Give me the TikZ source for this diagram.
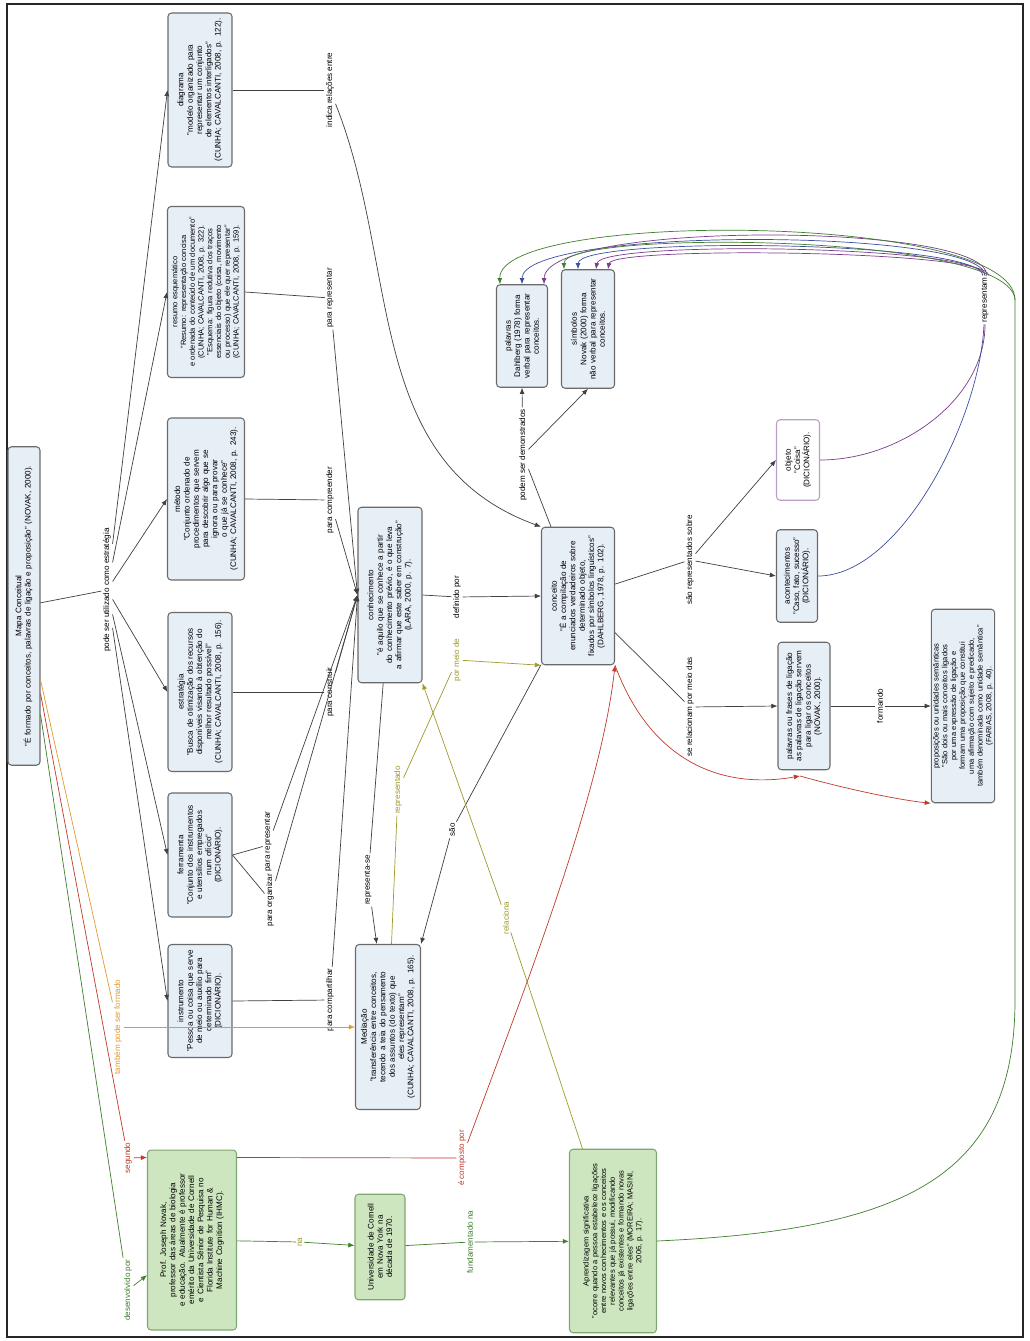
\documentclass[tikz,border=0pt]{standalone}
\usepackage{fontspec}
\setmainfont{Liberation Sans}
\usetikzlibrary{arrows.meta,calc}
\definecolor{boxfill}{HTML}{E6EEF6}
\definecolor{boxdraw}{HTML}{6A6A6A}
\definecolor{grfill}{HTML}{CDE6BF}
\definecolor{grdraw}{HTML}{7FA870}
\definecolor{cor}{HTML}{E39A2D}
\definecolor{cred}{HTML}{C0392B}
\definecolor{cgreen}{HTML}{3F7F2F}
\definecolor{colive}{HTML}{A09A2A}
\definecolor{cpurple}{HTML}{7A3D8C}
\definecolor{cblue}{HTML}{3F4FA0}
\tikzset{
  cbox/.style={draw=boxdraw, fill=boxfill, rounded corners=2pt, rotate=90, align=center,
    font=\fontsize{4.6}{5.3}\selectfont, inner sep=1pt, line width=0.6pt},
  gbox/.style={cbox, draw=grdraw, fill=grfill},
  small/.style={font=\fontsize{4.3}{5}\selectfont},
  lbl/.style={rotate=90, font=\fontsize{4.6}{5.3}\selectfont, fill=white, inner sep=0.8pt, align=center},
  ln/.style={draw=black!75, line width=0.4pt},
  arr/.style={ln, -{Latex[length=3.5pt,width=2.8pt]}},
}
\begin{document}
\begin{tikzpicture}[x=0.02cm,y=-0.02cm]
\useasboundingbox (0,0) rectangle (1030,1341);
\fill[white] (0,0) rectangle (1030,1341);
\draw[line width=1.2pt, black!85] (7,4) rectangle (1023,1337);

% ---------- concept nodes ----------
\node[cbox, minimum width=6.2cm, minimum height=0.64cm, text width=6.3cm] (mapa) at (24,606)
  {Mapa Conceitual\\"É formado por conceitos, palavras de ligação e proposição" (NOVAK, 2000).};
\node[cbox, minimum width=3.08cm, minimum height=1.28cm, text width=2.98cm] (diag) at (200,90)
  {diagrama\\"modelo organizado para\\representar um conjunto\\de elementos interligados"\\(CUNHA; CAVALCANTI, 2008, p. 122).};
\node[cbox, small, minimum width=3.42cm, minimum height=1.54cm, text width=3.32cm] (resumo) at (206,292)
  {resumo esquemático\\"Resumo: representação concisa\\e ordenada do conteúdo de um documento"\\(CUNHA; CAVALCANTI, 2008, p. 322).\\"Esquema: figura redutiva dos traços\\essenciais do objeto (coisa, movimento\\ou processo) que ele quer representar"\\(CUNHA; CAVALCANTI, 2008, p. 159).};
\node[cbox, minimum width=3.24cm, minimum height=1.54cm, text width=3.14cm] (metodo) at (206,499)
  {método\\"Conjunto ordenado de\\procedimentos que servem\\para descobrir algo que se\\ignora ou para provar\\o que já se conhece"\\(CUNHA; CAVALCANTI, 2008, p. 243).};
\node[cbox, minimum width=3.18cm, minimum height=1.28cm, text width=3.1cm] (estrat) at (200,692)
  {estratégia\\"Busca de otimização dos recursos\\disponíveis visando à obtenção do\\melhor resultado possível"\\(CUNHA; CAVALCANTI, 2008, p. 156).};
\node[cbox, minimum width=2.48cm, minimum height=1.28cm, text width=2.4cm] (ferram) at (200,855)
  {ferramenta\\"Conjunto dos instrumentos\\e utensílios empregados\\num ofício"\\(DICIONÁRIO).};
\node[cbox, minimum width=2.26cm, minimum height=1.28cm, text width=2.18cm] (instr) at (200,1001)
  {instrumento\\"Pessoa ou coisa que serve\\de meio ou auxílio para\\determinado fim"\\(DICIONÁRIO).};
\node[cbox, minimum width=3.5cm, minimum height=1.28cm, text width=3.44cm] (conhec) at (390,595)
  {conhecimento\\"é aquilo que se conhece a partir\\do conhecimento prévio, é o que leva\\a afirmar que este saber em construção"\\(LARA, 2000, p. 7).};
\node[cbox, minimum width=2.74cm, minimum height=1.46cm, text width=2.68cm] (conceito) at (578,596)
  {conceito\\"É a compilação de\\enunciados verdadeiros sobre\\determinado objeto,\\fixados por símbolos linguísticos"\\(DAHLBERG, 1978, p. 102).};
\node[cbox, minimum width=3.3cm, minimum height=1.3cm, text width=3.22cm] (mediacao) at (388,1027)
  {Mediação\\"transferência entre conceitos,\\tecendo a teia do pensamento\\dos assuntos (do texto) que\\eles representam"\\(CUNHA; CAVALCANTI, 2008, p. 165).};
\node[cbox, minimum width=2.04cm, minimum height=1.02cm, text width=1.98cm] (palavras) at (522,336)
  {palavras\\Dahlberg (1978) forma\\verbal para representar\\conceitos.};
\node[cbox, minimum width=2.36cm, minimum height=1.06cm, text width=2.3cm] (simbolos) at (588,329)
  {símbolos\\Novak (2000) forma\\não verbal para representar\\conceitos.};
\node[cbox, fill=white, draw=cpurple!50, minimum width=1.6cm, minimum height=0.86cm, text width=1.54cm] (objeto) at (798,460)
  {objeto\\"Coisa"\\(DICIONÁRIO).};
\node[cbox, minimum width=1.84cm, minimum height=0.82cm, text width=1.78cm] (acont) at (797,576)
  {acontecimentos\\"Caso, fato, sucesso"\\(DICIONÁRIO).};
\node[cbox, minimum width=2.54cm, minimum height=1.04cm, text width=2.48cm] (pligacao) at (804,706)
  {palavras ou frases de ligação\\as palavras de ligação servem\\para ligar os conceitos\\(NOVAK, 2000).};
\node[cbox, small, minimum width=3.86cm, minimum height=1.26cm, text width=3.8cm] (propos) at (963,706)
  {proposições ou unidades semânticas\\"São dois ou mais conceitos ligados\\por uma expressão de ligação e\\formam uma proposição que constitui\\uma afirmação com sujeito e predicado,\\também denominada como unidade semântica"\\(FARIAS, 2008, p. 40).};
\node[gbox, minimum width=3.6cm, minimum height=1.78cm, text width=3.52cm] (novak) at (192,1240)
  {Prof. Joseph Novak,\\professor das áreas de biologia\\e educação. Atualmente é professor\\emérito da Universidade de Cornell\\e Cientista Sênior de Pesquisa no\\Florida Institute for Human \&\\Machine Cognition (IHMC).};
\node[gbox, minimum width=2.1cm, minimum height=1.0cm, text width=2.04cm] (cornell) at (380,1247)
  {Universidade de Cornell\\em Nova York na década de 1970.};
\node[gbox, small, minimum width=3.66cm, minimum height=1.74cm, text width=3.6cm] (aprend) at (613,1241)
  {Aprendizagem significativa\\"ocorre quando a pessoa estabelece ligações\\entre novos conhecimentos e os conceitos\\relevantes que já possui, modificando\\conceitos já existentes e formando novas\\ligações entre eles" (MOREIRA; MASINI,\\2006, p. 17).};

% ---------- linking phrases ----------
\node[lbl] (Lutil) at (107,590) {pode ser utilizado como estratégia};
\node[lbl] (Lind) at (330,90) {indica relações entre};
\node[lbl] (Lrepr) at (330,298) {para representar};
\node[lbl] (Lcomp) at (330,500) {para compreender};
\node[lbl] (Lconst) at (330,692) {para construir};
\node[lbl] (Lerep) at (268,845) {e para representar};
\node[lbl] (Lorg) at (270,900) {para organizar};
\node[lbl] (Lcompart) at (330,1000) {para compartilhar};
\node[lbl] (Ldef) at (457,597) {definido por};
\node[lbl, text=colive] (Lpm) at (457,660) {por meio de};
\node[lbl, text=colive] (Lrepdo) at (398,790) {representado};
\node[lbl] (Lrepse) at (368,880) {representa-se};
\node[lbl] (Lsao) at (452,830) {são};
\node[lbl] (Ldemo) at (523,455) {podem ser demonstrados};
\node[lbl] (Lsrep) at (690,560) {são representados sobre};
\node[lbl] (Lrelac) at (690,707) {se relacionam por meio das};
\node[lbl] (Lform) at (880,706) {formando};
\node[lbl] (Lrepm) at (985,300) {representam};
\node[lbl, text=cor] (Ltamb) at (118,1027) {também pode ser formado};
\node[lbl, text=cred] (Lseg) at (128,1158) {segundo};
\node[lbl, text=cgreen] (Ldes) at (128,1290) {desenvolvido por};
\node[lbl, text=colive] (Lna) at (300,1242) {na};
\node[lbl, text=cgreen] (Lfund) at (470,1242) {fundamentado na};
\node[lbl, text=cred] (Lcompo) at (462,1158) {é composto por};
\node[lbl, text=colive] (Lrel) at (506,918) {relaciona};

% ---------- connectors ----------
\draw[ln] (mapa) -- (Lutil);
\foreach \n in {diag,resumo,metodo,estrat,ferram,instr} \draw[arr] (Lutil) -- (\n.north);

\draw[ln] (diag.south) -- (Lind);
\draw[arr] (Lind) to[out=-70,in=160] (conceito.north east);
\draw[ln] (resumo.south) -- (Lrepr);
\draw[arr] (Lrepr) -- (conhec.north);
\draw[ln] (metodo.south) -- (Lcomp);
\draw[arr] (Lcomp) -- (conhec.north);
\draw[ln] (estrat.south) -- (Lconst);
\draw[arr] (Lconst) -- (conhec.north);
\draw[ln] (ferram.south) -- (Lerep);
\draw[ln] (ferram.south) -- (Lorg);
\draw[arr] (Lerep) -- (conhec.north);
\draw[arr] (Lorg) -- (conhec.north);
\draw[ln] (instr.south) -- (Lcompart);
\draw[arr] (Lcompart) -- (conhec.north);

\draw[ln] (conhec.south) -- (Ldef);
\draw[arr] (Ldef) -- (conceito.north);
\draw[ln] (conhec) -- (Lrepse);
\draw[arr] (Lrepse) -- (mediacao);
\draw[ln] (conceito) -- (Lsao);
\draw[arr] (Lsao) -- (mediacao.south east);
\draw[ln,colive] (mediacao) -- (Lrepdo);
\draw[ln,colive] (Lrepdo) -- (Lpm);
\draw[arr,colive] (Lpm) -- (conceito.north west);
\draw[ln,colive] (aprend) -- (Lrel);
\draw[arr,colive] (Lrel) -- (conhec.south west);

\draw[ln] (conceito) -- (Ldemo);
\draw[arr] (Ldemo) -- (palavras.west);
\draw[arr] (Ldemo) -- (simbolos.west);
\draw[ln] (conceito) -- (Lsrep);
\draw[arr] (Lsrep) -- (objeto.north);
\draw[arr] (Lsrep) -- (acont.north);
\draw[ln] (conceito) -- (Lrelac);
\draw[arr] (Lrelac) -- (pligacao.north);
\draw[ln] (pligacao.south) -- (Lform);
\draw[arr] (Lform) -- (propos.north);
\coordinate (rc) at (800,776);
\draw[arr,cred] (conceito.south west) .. controls (650,760) and (720,790) .. (rc);
\draw[arr,cred] (rc) .. controls (850,790) and (900,800) .. (propos.north west);

% right-side curves
\draw[ln,cpurple] (objeto.south) .. controls (900,460) and (985,400) .. (Lrepm);
\draw[ln,cblue] (acont.south) .. controls (900,576) and (980,420) .. (Lrepm);
\draw[arr,cblue] (Lrepm) .. controls (985,228) and (522,226) .. ($(palavras.east)+(0,0)$);
\draw[arr,cpurple] (Lrepm) .. controls (990,222) and (545,220) .. ($(palavras.east)+(22,0)$);
\draw[arr,cblue] (Lrepm) .. controls (980,240) and (578,236) .. ($(simbolos.east)+(-10,0)$);
\draw[arr,cpurple] (Lrepm) .. controls (985,245) and (600,240) .. ($(simbolos.east)+(8,0)$);
\draw[arr,cpurple] (Lrepm) .. controls (992,250) and (612,246) .. ($(simbolos.east)+(20,0)$);
\coordinate (gt) at (1015,300);
\draw[ln,cgreen] (aprend.south) .. controls (900,1230) and (1015,1180) .. (1015,1000) -- (gt);
\draw[arr,cgreen] (gt) .. controls (1015,212) and (497,210) .. ($(palavras.east)+(-22,0)$);
\draw[arr,cgreen] (gt) .. controls (1012,232) and (563,230) .. ($(simbolos.east)+(-24,0)$);

% Mapa to bottom
\draw[ln,cor] (mapa) -- (Ltamb);
\draw[arr,cor] (Ltamb) -- (mediacao.north);
\draw[ln,cred] (mapa) -- (Lseg);
\draw[arr,cred] (Lseg) -- ($(novak.north east)+(0,8)$);
\draw[ln,cred] ($(novak.south east)+(0,8)$) -- (Lcompo);
\draw[arr,cred] (Lcompo) .. controls (520,1000) and (600,800) .. (conceito.south west);
\draw[ln,cgreen] (mapa) -- (Ldes);
\draw[arr,cgreen] (Ldes) -- (novak);
\draw[ln,cgreen] (novak) -- (Lna);
\draw[arr,cgreen] (Lna) -- (cornell);
\draw[ln,cgreen] (cornell) -- (Lfund);
\draw[arr,cgreen] (Lfund) -- (aprend);
\end{tikzpicture}
\end{document}
